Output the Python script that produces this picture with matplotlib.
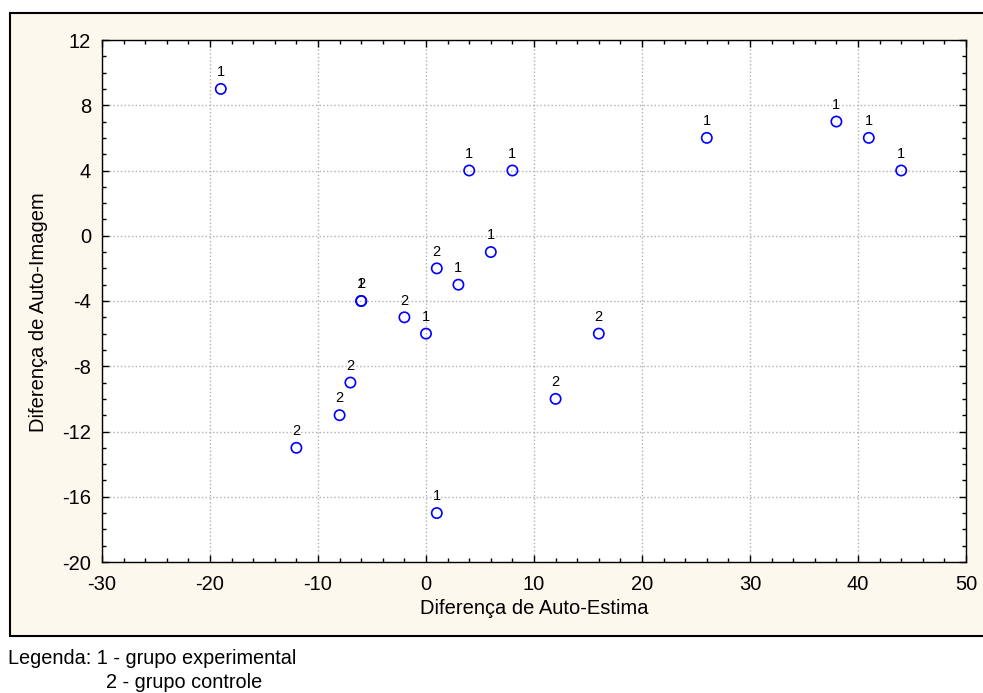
import numpy as np
import matplotlib.pyplot as plt
from matplotlib.patches import Rectangle
from matplotlib.ticker import MultipleLocator

plt.rcParams['font.family'] = ['Liberation Sans', 'DejaVu Sans']
plt.rcParams['axes.unicode_minus'] = False

# Dados
auto_estima = [-19, -12, -8, -7, -6, -6, -2, 0, 1, 1, 3, 4, 6, 8, 12, 16, 26, 38, 41, 44]
auto_imagem = [9, -13, -11, -9, -4, -4, -5, -6, -2, -17, -3, 4, -1, 4, -10, -6, 6, 7, 6, 4]
grupo = ['1', '2', '2', '2', '1', '2', '2', '1', '2', '1', '1', '1', '1', '1', '2', '2', '1', '1', '1', '1']

fig = plt.figure(figsize=(9.83, 6.93), dpi=100)

# moldura bege
fundo = Rectangle((10 / 983, 1 - 636 / 693), 1.0, (636 - 13) / 693,
                  transform=fig.transFigure, facecolor='#fdf8ee',
                  edgecolor='black', linewidth=1.5, zorder=-10)
fig.add_artist(fundo)

ax = fig.add_axes([102 / 983, 1 - 562 / 693, 864 / 983, 522 / 693])
ax.set_facecolor('white')

ax.scatter(auto_estima, auto_imagem, s=55, facecolors='none',
           edgecolors='#0000ff', linewidths=1.2, zorder=3)
for x, y, g in zip(auto_estima, auto_imagem, grupo):
    ax.annotate(g, (x, y), xytext=(0, 7), textcoords='offset points',
                ha='center', va='bottom', fontsize=10.5, zorder=4)

ax.set_xlim(-30, 50)
ax.set_ylim(-20, 12)
ax.xaxis.set_major_locator(MultipleLocator(10))
ax.xaxis.set_minor_locator(MultipleLocator(2))
ax.yaxis.set_major_locator(MultipleLocator(4))
ax.yaxis.set_minor_locator(MultipleLocator(1))
ax.tick_params(which='both', direction='in', top=True, right=True,
               labelsize=14.5, width=1)
ax.tick_params(which='major', length=5)
ax.tick_params(which='minor', length=3)
ax.tick_params(axis='x', which='major', pad=9)
ax.tick_params(axis='y', which='major', pad=8)
ax.grid(True, which='major', linestyle=':', color='#b0b0b0', linewidth=1)

for s in ax.spines.values():
    s.set_linewidth(1)

ax.set_xlabel('Diferença de Auto-Estima', fontsize=14.5, labelpad=4)
ax.set_ylabel('Diferença de Auto-Imagem', fontsize=14.5, labelpad=8)
ax.yaxis.set_label_coords(-0.062, 0.478)

fig.text(8 / 983, 1 - 659 / 693, 'Legenda: 1 - grupo experimental',
         fontsize=14.3, va='center', ha='left')
fig.text(106 / 983, 1 - 683 / 693, '2 - grupo controle',
         fontsize=14.3, va='center', ha='left')

fig.savefig('out.png', dpi=100)
